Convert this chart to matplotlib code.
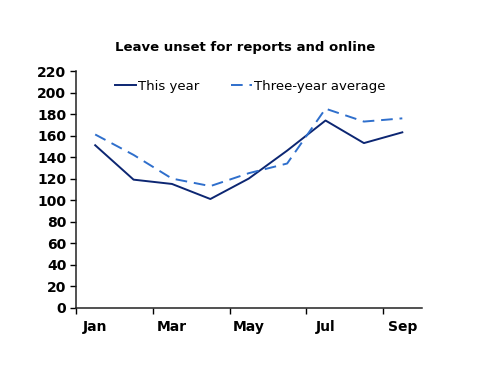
import matplotlib
matplotlib.use("Agg")
import matplotlib.pyplot as plt

months = ["Jan", "Feb", "Mar", "Apr", "May", "Jun", "Jul", "Aug", "Sep"]
this_year = [151, 119, 115, 101, 120, 146, 174, 153, 163]
three_year_avg = [161, 142, 120, 113, 125, 134, 185, 173, 176]
y_ticks = list(range(0, 221, 20))

plt.rcParams['font.family'] = ['DejaVu Sans']

fig = plt.figure(figsize=(5, 3.86), dpi=100)
ax = fig.add_axes([0.152, 0.203, 0.691, 0.613])

x = list(range(len(months)))
ax.plot(x, this_year, color='#0c2672', lw=1.4, label='This year')
ax.plot(x, three_year_avg, color='#2f6fcc', lw=1.4, dashes=(6, 3.5), label='Three-year average')

ax.set_xlim(-0.5, len(months) - 0.5)
ax.set_ylim(0, 220)
ax.set_yticks(y_ticks)
ax.set_yticklabels([str(v) for v in y_ticks], fontsize=10, fontweight='bold')

# ticks sit between categories, labels on every other month
ax.set_xticks([i - 0.5 for i in range(0, len(months), 2)])
ax.set_xticklabels([])
ax.set_xticks(x[::2], minor=True)
ax.set_xticklabels(months[::2], minor=True, fontsize=10, fontweight='bold')
ax.tick_params(axis='x', which='minor', length=0, pad=9)
ax.tick_params(axis='x', which='major', length=4, width=1, direction='out')
ax.tick_params(axis='y', length=4, width=1, direction='out', pad=3)

for s in ['top', 'right']:
    ax.spines[s].set_visible(False)
for s in ['left', 'bottom']:
    ax.spines[s].set_linewidth(1.1)
    ax.spines[s].set_color('#222222')

ax.legend(loc='upper center', bbox_to_anchor=(0.505, 1.012), ncol=2, frameon=False,
          fontsize=9.5, handlelength=1.6, handletextpad=0.15, columnspacing=2.4)

fig.text(0.49, 0.878, 'Leave unset for reports and online', ha='center', va='center',
         fontsize=9.5, fontweight='bold')

fig.savefig('out.png', dpi=100)
